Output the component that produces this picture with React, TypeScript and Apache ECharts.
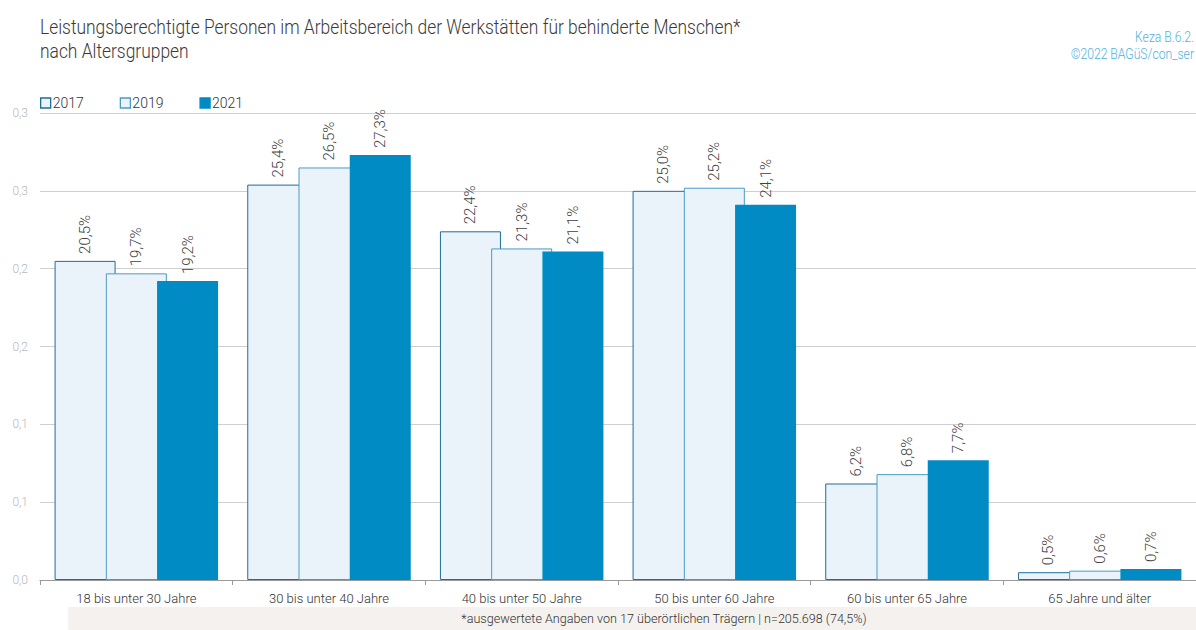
import React, { useEffect, useRef } from "react";
import * as echarts from "echarts";

const categories = [
  "18 bis unter 30 Jahre",
  "30 bis unter 40 Jahre",
  "40 bis unter 50 Jahre",
  "50 bis unter 60 Jahre",
  "60 bis unter 65 Jahre",
  "65 Jahre und älter",
];
const years = ["2017", "2019", "2021"];
const values2017 = [20.5, 25.4, 22.4, 25.0, 6.2, 0.5];
const values2019 = [19.7, 26.5, 21.3, 25.2, 6.8, 0.6];
const values2021 = [19.2, 27.3, 21.1, 24.1, 7.7, 0.7];
const yTickLabels = ["0,0", "0,1", "0,1", "0,2", "0,2", "0,3", "0,3"];

const FONT = "Roboto, 'Noto Sans', sans-serif";
const W = 300;

const styles = [
  { color: "#eaf3f9", borderColor: "#1f6e98", borderWidth: 1 },
  { color: "#eaf3f9", borderColor: "#4c9bc2", borderWidth: 1 },
  { color: "#008bc4", borderColor: "#008bc4", borderWidth: 0 },
];

export default function App() {
  const ref = useRef<HTMLDivElement>(null);
  useEffect(() => {
    const chart = echarts.init(ref.current!, null, { renderer: "svg" });
    const all = [values2017, values2019, values2021];
    const series = all.map((vals, si) => ({
      name: years[si],
      type: "bar",
      data: vals.map((v) => v / 100),
      barWidth: 61,
      barGap: "-16%",
      itemStyle: styles[si],
      label: {
        show: true,
        position: "top",
        rotate: 90,
        align: "left",
        verticalAlign: "middle",
        distance: 7,
        fontFamily: FONT,
        fontWeight: W,
        fontSize: 15,
        color: "#404040",
        formatter: (p: any) => vals[p.dataIndex].toFixed(1).replace(".", ",") + "%",
      },
    }));
    chart.setOption({
      animation: false,
      textStyle: { fontFamily: FONT, fontWeight: W },
      legend: {
        left: 35,
        top: 91,
        icon: "rect",
        itemWidth: 10,
        itemHeight: 10,
        itemGap: 36,
        textStyle: { fontFamily: FONT, fontWeight: W, fontSize: 14, color: "#333", padding: [0, 0, 0, -3] },
        data: years.map((y, i) => ({
          name: y,
          itemStyle: { color: styles[i].color, borderColor: styles[i].borderColor, borderWidth: 1.3 },
        })),
      },
      grid: { left: 40, right: -2, top: 113, bottom: 50, containLabel: false },
      xAxis: {
        type: "category",
        data: categories,
        axisLine: { lineStyle: { color: "#9a9a9a" } },
        axisTick: { show: true, length: 5, lineStyle: { color: "#9a9a9a" } },
        axisLabel: { fontFamily: FONT, fontWeight: W, fontSize: 13, color: "#333", margin: 12, interval: 0 },
      },
      yAxis: {
        type: "value",
        min: 0,
        max: 0.3,
        interval: 0.05,
        axisLine: { show: false },
        axisTick: { show: false },
        splitLine: { lineStyle: { color: "#cfcfcf" } },
        axisLabel: {
          fontFamily: FONT,
          fontWeight: W,
          fontSize: 12,
          color: "#b8b8b8",
          margin: 12,
          formatter: (v: number) => yTickLabels[Math.round(v / 0.05)] ?? "",
        },
      },
      graphic: [
        {
          type: "text",
          x: 40,
          y: 16,
          scaleX: 0.87,
          style: {
            text: "Leistungsberechtigte Personen im Arbeitsbereich der Werkstätten für behinderte Menschen*\nnach Altersgruppen",
            fontFamily: FONT,
            fontWeight: W,
            fontSize: 20,
            lineHeight: 24,
            fill: "#3a3a3a",
          },
        },
        {
          type: "text",
          x: 1194,
          y: 29,
          scaleX: 0.84,
          style: {
            text: "Keza B.6.2.\n©2022 BAGüS/con_ser",
            fontFamily: FONT,
            fontWeight: W,
            fontSize: 14.5,
            lineHeight: 17,
            fill: "#4fb2dd",
            align: "right",
          },
        },
        {
          type: "rect",
          x: 68,
          y: 607,
          shape: { width: 1128, height: 23 },
          style: { fill: "#f4f1ee" },
          z: -1,
        },
        {
          type: "text",
          x: 664,
          y: 618,
          style: {
            text: "*ausgewertete Angaben von 17 überörtlichen Trägern | n=205.698 (74,5%)",
            fontFamily: FONT,
            fontWeight: W,
            fontSize: 12.6,
            fill: "#333",
            align: "center",
            verticalAlign: "middle",
          },
        },
      ],
      series,
    });
    return () => chart.dispose();
  }, []);
  return (
    <div
      ref={ref}
      style={{ position: "fixed", left: 0, top: 0, width: 1196, height: 630, background: "#fff" }}
    />
  );
}
